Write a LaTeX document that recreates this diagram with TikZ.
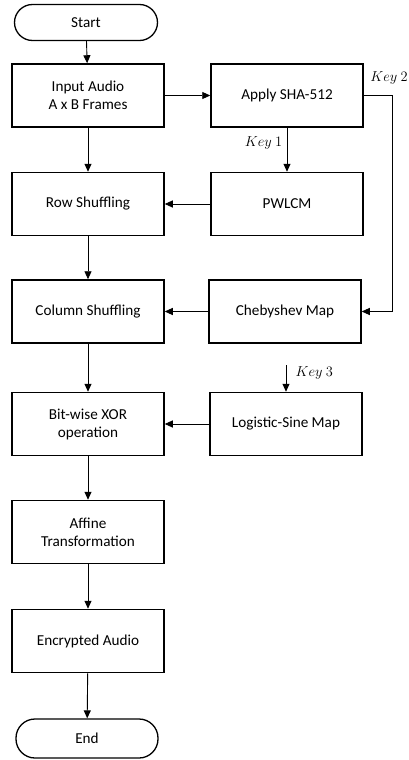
\documentclass[tikz,border=0pt]{standalone}
\usepackage{fontspec}
\setmainfont{Carlito}
\usetikzlibrary{arrows.meta,positioning}
\tikzset{
  box/.style={draw, line width=1.5pt, minimum width=152pt, minimum height=63pt, align=center, inner sep=2pt, font=\fontsize{15.2}{18}\selectfont},
  term/.style={draw, line width=1.3pt, rounded corners=18pt, minimum width=143pt, minimum height=36pt, font=\fontsize{15.2}{18}\selectfont},
  conn/.style={line width=0.9pt, -{Triangle[length=8pt,width=7pt]}},
  keylab/.style={font=\fontsize{14.5}{17}\selectfont}
}
\begin{document}
\begin{tikzpicture}[x=1pt,y=-1pt]
\useasboundingbox (0,0) rectangle (409,760);
\node[term] (start) at (86,22.5) {Start};
\node[box] (input) at (88,95.5) {Input Audio\\A x B Frames};
\node[box] (sha) at (287,95.5) {Apply SHA-512};
\node[box] (row) at (88,204) {Row Shuffling};
\node[box] (pwlcm) at (287,204) {PWLCM};
\node[box] (col) at (88,311.5) {Column Shuffling};
\node[box] (cheb) at (285,311.5) {Chebyshev Map};
\node[box] (xor) at (88,424) {Bit-wise XOR\\operation};
\node[box] (logi) at (286,424) {Logistic-Sine Map};
\node[box] (aff) at (88,532) {Affine\\Transformation};
\node[box] (enc) at (88,641) {Encrypted Audio};
\node[term, minimum width=142pt, minimum height=39pt, rounded corners=19pt] (end) at (87,738.5) {End};

\coordinate (k2a) at (392,95.5);
\coordinate (k2b) at (392,311.5);
\coordinate (k3) at (286,365);

\draw[conn] (start) -- (input);
\draw[conn] (input) -- (sha);
\draw[conn] (input) -- (row);
\draw[conn] (sha) -- node[keylab, left=1pt, pos=0.35] (key1) {$Key\ 1$} (pwlcm);
\draw[conn] (pwlcm) -- (row);
\draw[conn] (row) -- (col);
\draw[conn] (sha.east) -- (k2a) -- (k2b) -- (cheb.east);
\node[keylab] (key2) at (389,78) {$Key\ 2$};
\draw[conn] (cheb) -- (col);
\draw[conn] (col) -- (xor);
\draw[conn] (k3) -- (logi);
\node[keylab, right=6pt] (key3) at (k3|-0,373) {$Key\ 3$};
\draw[conn] (logi) -- (xor);
\draw[conn] (xor) -- (aff);
\draw[conn] (aff) -- (enc);
\draw[conn] (enc) -- (end);
\end{tikzpicture}
\end{document}
